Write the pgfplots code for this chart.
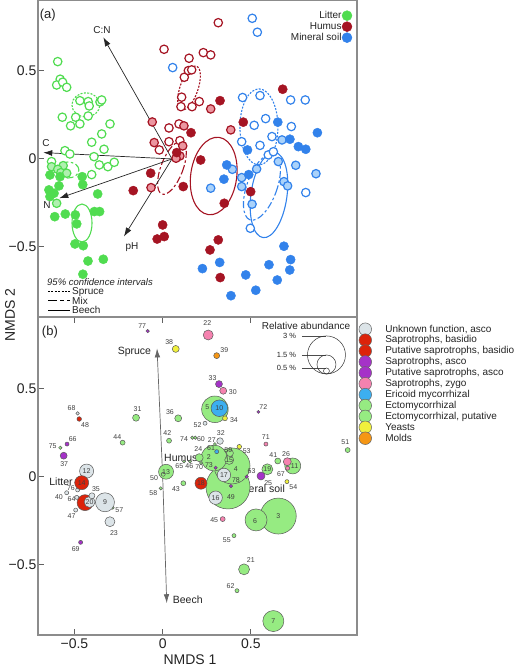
\documentclass[border=0pt]{standalone}
\usepackage{fontspec}
\setmainfont{Liberation Sans}
\usepackage{pgfplots}
\usepackage{pgfplotstable}
\pgfplotsset{compat=1.18}
\usetikzlibrary{arrows.meta}

\newcommand{\fs}[1]{\fontsize{#1}{#1}\selectfont}

% site colours (panel a)
\definecolor{litter}{RGB}{80,220,80}
\definecolor{litterL}{RGB}{175,240,175}
\definecolor{humus}{RGB}{165,20,35}
\definecolor{humusL}{RGB}{235,150,160}
\definecolor{mineral}{RGB}{50,130,235}
\definecolor{mineralL}{RGB}{170,210,250}
\definecolor{frame}{RGB}{140,140,140}
\definecolor{txt}{RGB}{35,35,35}
% guild colours (panel b)
\definecolor{unk}{RGB}{220,228,232}
\definecolor{redb}{RGB}{220,35,10}
\definecolor{purp}{RGB}{165,50,200}
\definecolor{pinkz}{RGB}{245,130,175}
\definecolor{eric}{RGB}{60,175,240}
\definecolor{ecto}{RGB}{150,235,130}
\definecolor{yeast}{RGB}{240,240,60}
\definecolor{mold}{RGB}{245,150,20}

\tikzset{
  spr/.style={dash pattern=on 2pt off 1.4pt},
  mixd/.style={dash pattern=on 7pt off 2.5pt on 2.5pt off 2.5pt},
}
\pgfplotsset{
  sprm/.style={only marks, mark=*, mark size=4.2pt, mark options={solid, fill=white, draw=#1, line width=1.2pt}},
  mixm/.style 2 args={only marks, mark=*, mark size=4.2pt, mark options={solid, fill=#2, draw=#1, line width=1.2pt}},
  beem/.style={only marks, mark=*, mark size=4.6pt, mark options={solid, fill=#1, draw=#1, line width=0.4pt}},
  bub/.style={scatter, only marks, mark=*,
    scatter/use mapped color={draw=black!65, fill=#1},
    line width=0.5pt,
    visualization depends on={\thisrow{ab}*6.33 \as \rad},
    scatter/@pre marker code/.append style={/tikz/mark size=\rad}},
  frm/.style={axis line style={draw=frame, line width=1.3pt},
    major tick length=6pt, tick style={draw=frame!70!black, line width=0.9pt},
    tick label style={font=\fs{14}, text=txt}, clip=false},
}

% ---------- panel (b) data: NMDS scores, relative abundance (%) ----------
\pgfplotstableread{
x y ab
0.370 -0.058 3.48
0.393 0.061 2.84
0.655 -0.223 2.84
0.291 0.106 2.05
0.296 0.382 2.10
0.529 -0.245 1.74
0.627 -0.818 1.66
0.737 0.061 1.26
0.019 0.028 1.18
0.593 0.042 0.87
0.461 -0.525 0.87
0.377 0.095 0.71
0.207 0.108 0.63
0.381 0.134 0.55
0.088 0.331 0.55
-0.151 0.334 0.55
0.652 0.089 0.47
-0.227 0.193 0.39
0.036 0.204 0.39
0.117 -0.037 0.39
1.048 0.151 0.39
0.003 0.014 0.32
-0.011 -0.066 0.27
0.404 -0.334 0.32
0.421 -0.646 0.32
0.168 0.221 0.27
0.185 0.221 0.27
-0.580 0.164 0.27
-0.283 -0.176 0.24
0.296 0.185 0.24
0.121 0.086 0.24
0.155 0.086 0.24
0.217 0.078 0.24
}\ectotab
\pgfplotstableread{
x y ab
-0.440 -0.147 1.26
}\redAtab
\pgfplotstableread{
x y ab
0.347 0.010 1.06
0.300 -0.119 1.06
-0.431 0.032 1.11
-0.327 -0.145 1.50
-0.414 -0.143 0.87
-0.299 -0.255 0.79
0.325 0.202 0.52
-0.401 -0.108 0.47
0.240 0.303 0.32
-0.482 0.359 0.27
-0.544 -0.091 0.32
-0.482 -0.075 0.32
-0.487 -0.117 0.32
-0.493 -0.189 0.32
}\unktab
\pgfplotstableread{
x y ab
-0.459 -0.034 1.11
0.217 -0.037 0.95
-0.473 0.327 0.36
}\redBtab
\pgfplotstableread{
x y ab
-0.085 0.825 0.27
0.319 0.525 0.55
-0.542 0.185 0.32
-0.561 0.119 0.55
0.300 0.051 0.27
0.387 -0.053 0.27
0.476 0.000 0.27
0.557 0.004 0.63
-0.465 -0.372 0.32
0.542 0.367 0.24
}\purptab
\pgfplotstableread{
x y ab
0.258 0.803 0.79
0.343 0.487 0.55
0.706 0.085 0.63
0.708 0.048 0.32
0.585 0.185 0.32
0.340 -0.240 0.39
}\pinktab
\pgfplotstableread{
x y ab
0.321 0.388 1.31
0.306 0.142 0.32
}\erictab
\pgfplotstableread{
x y ab
0.074 0.724 0.55
0.353 0.331 0.39
0.434 0.170 0.36
0.704 -0.028 0.32
}\yeasttab
\pgfplotstableread{
x y ab
0.306 0.686 0.47
}\moldtab
\pgfplotstableread{
x y lab
-0.116 0.856 77
0.253 0.873 22
0.037 0.765 38
0.349 0.718 39
0.283 0.561 33
0.397 0.482 30
0.253 0.397 5
0.321 0.388 10
0.404 0.321 34
0.570 0.397 72
0.198 0.293 52
0.041 0.365 36
-0.142 0.384 31
-0.516 0.388 68
-0.440 0.291 48
-0.257 0.223 44
0.026 0.246 42
0.121 0.212 74
0.217 0.215 60
0.329 0.246 32
0.278 0.208 27
-0.510 0.214 66
-0.623 0.172 75
-0.558 0.074 37
0.476 0.146 53
0.584 0.223 71
0.627 0.123 41
0.699 0.129 26
0.747 0.061 11
0.670 0.017 67
1.035 0.195 51
0.274 0.161 61
0.372 0.151 59
0.377 0.095 15
0.202 0.155 24
0.262 0.113 2
0.094 0.061 65
0.151 0.061 46
0.207 0.057 70
0.262 0.066 73
0.414 0.042 4
0.347 0.010 17
0.415 -0.019 78
0.504 0.034 63
0.593 0.042 19
0.598 -0.034 25
0.740 -0.057 54
0.300 -0.119 16
0.387 -0.113 49
0.217 -0.037 18
0.019 0.028 13
-0.049 -0.009 50
-0.053 -0.091 58
0.075 -0.071 43
0.292 -0.245 45
0.523 -0.249 6
0.655 -0.223 3
0.363 -0.359 55
0.499 -0.472 21
0.385 -0.618 62
0.627 -0.818 7
-0.431 0.032 12
-0.459 -0.034 14
-0.378 -0.071 35
-0.520 -0.066 76
-0.588 -0.113 40
-0.516 -0.128 64
-0.414 -0.143 20
-0.327 -0.145 9
-0.246 -0.189 57
-0.516 -0.223 47
-0.276 -0.317 23
-0.493 -0.410 69
}\labtab

\begin{document}
\begin{tikzpicture}
\path[use as bounding box] (0pt,0pt) rectangle (520pt,668pt);

% ================= panel (a) =================
\begin{axis}[frm,
  at={(38pt,351pt)}, anchor=south west, scale only axis,
  width=319pt, height=317pt,
  xmin=-0.761, xmax=1.051, ymin=-0.898, ymax=0.903,
  xtick=\empty, ytick={-0.5,0,0.5}, yticklabels={−0.5,0,0.5}, ytick pos=left,
  yticklabel style={inner sep=1.5pt},
  legend plot pos=right, legend cell align=right,
  legend style={at={(axis description cs:0.985,0.967)}, anchor=north east,
    draw=none, fill=none, font=\fs{10}, text=txt, inner sep=0pt,
    row sep=1pt, nodes={inner sep=0.5pt}},
]
\addlegendimage{only marks, mark=*, mark size=5pt, draw=litter, fill=litter}
\addlegendimage{only marks, mark=*, mark size=5pt, draw=humus, fill=humus}
\addlegendimage{only marks, mark=*, mark size=5pt, draw=mineral, fill=mineral}
\legend{Litter, Humus, Mineral soil}

% litter
\addplot[sprm=litter] coordinates {
(-0.649,0.553) (-0.635,0.453) (-0.655,0.420) (-0.621,0.436) (-0.598,0.407)
(-0.523,0.331) (-0.476,0.326) (-0.470,0.301) (-0.409,0.324) (-0.399,0.335)
(-0.623,0.237) (-0.547,0.237) (-0.476,0.244) (-0.576,0.188) (-0.523,0.199)
(-0.352,0.199) (-0.399,0.142) (-0.456,0.095) (-0.386,0.055) (-0.608,0.047)
(-0.580,0.028) (-0.443,0.013) (-0.684,-0.015) (-0.364,-0.044) (-0.328,-0.019)
(-0.413,-0.034) (-0.456,-0.089)};
\addplot[mixm={litter}{litterL}] coordinates {
(-0.618,-0.038) (-0.684,-0.044) (-0.649,-0.059) (-0.631,-0.078) (-0.598,-0.081)
(-0.655,-0.252)};
\addplot[beem=litter] coordinates {
(-0.693,-0.091) (-0.636,-0.101) (-0.510,-0.101) (-0.507,-0.146) (-0.642,-0.153)
(-0.699,-0.176) (-0.670,-0.195) (-0.693,-0.214) (-0.606,-0.313) (-0.666,-0.328)
(-0.549,-0.318) (-0.541,-0.369) (-0.441,-0.299) (-0.411,-0.299) (-0.422,-0.199)
(-0.551,-0.483) (-0.504,-0.493) (-0.477,-0.580) (-0.390,-0.570) (-0.506,-0.655)};
% humus
\addplot[sprm=humus] coordinates {
(0.263,0.774) (-0.045,0.623) (0.097,0.572) (0.178,0.604) (0.220,0.591)
(0.070,0.464) (0.093,0.502) (0.112,0.506) (0.055,0.351) (0.051,0.297)
(0.114,0.297) (0.155,0.326) (-0.017,0.176) (0.040,0.199) (-0.017,0.098)
(0.045,0.104) (-0.072,0.051)};
\addplot[mixm={humus}{humusL}] coordinates {
(0.220,0.284) (-0.112,0.210) (0.068,0.188) (0.334,0.165) (-0.101,0.093)
(0.061,0.074) (0.045,0.017) (0.023,0.004) (-0.119,-0.163)};
\addplot[beem=humus] coordinates {
(0.273,0.331) (0.108,0.149) (0.405,0.209) (0.629,0.396) (0.027,0.036)
(-0.121,-0.081) (-0.220,-0.180) (0.064,-0.157) (0.163,-0.006) (0.297,-0.252)
(-0.053,-0.375) (-0.084,-0.455) (-0.044,-0.441) (0.263,-0.460) (0.216,-0.517)
(0.274,-0.674) (0.447,-0.186)};
% mineral soil
\addplot[sprm=mineral] coordinates {
(0.456,0.799) (0.485,0.720) (0.004,0.519) (0.401,0.349) (0.500,0.360)
(0.674,0.335) (0.757,0.335) (0.532,0.229) (0.467,0.191) (0.678,0.184)
(0.568,0.127) (0.396,0.098) (0.500,0.077) (0.547,0.023) (0.576,0.041)
(0.760,-0.191) (0.445,-0.394)};
\addplot[mixm={mineral}{mineralL}] coordinates {
(0.625,0.108) (0.604,-0.015) (0.481,-0.057) (0.703,-0.036) (0.818,-0.084)
(0.636,-0.129) (0.657,-0.153) (0.396,-0.106) (0.396,-0.157) (0.455,-0.257)
(0.343,-0.059) (0.220,-0.166)};
\addplot[beem=mineral] coordinates {
(0.429,0.051) (0.601,0.209) (0.826,0.149) (0.670,0.112) (0.718,0.070)
(0.760,0.055) (0.436,-0.089) (0.311,-0.034) (0.295,-0.115) (0.636,-0.496)
(0.674,-0.572) (0.551,-0.601) (0.669,-0.631) (0.419,-0.659) (0.598,-0.688)
(0.476,-0.746) (0.173,-0.623) (0.271,-0.588) (0.335,-0.777)};

% 95% confidence ellipses
\draw[litter, spr, line width=1.1pt] (axis cs:-0.489,0.307) ellipse [x radius=14pt, y radius=12pt];
\draw[litter, mixd, line width=1.1pt] (axis cs:-0.591,-0.063) ellipse [x radius=11pt, y radius=8pt];
\draw[litter, line width=1.1pt] (axis cs:-0.511,-0.364) ellipse [x radius=10pt, y radius=19pt];
\draw[humus, spr, line width=1.1pt, rotate around={-19:(axis cs:0.097,0.403)}] (axis cs:0.097,0.403) ellipse [x radius=9pt, y radius=23pt];
\draw[humus, mixd, line width=1.1pt, rotate around={-21:(axis cs:0,-0.051)}] (axis cs:0,-0.051) ellipse [x radius=11pt, y radius=28pt];
\draw[humus, line width=1.1pt, rotate around={-8:(axis cs:0.237,-0.097)}] (axis cs:0.237,-0.097) ellipse [x radius=23pt, y radius=39pt];
\draw[mineral, spr, line width=1.1pt] (axis cs:0.494,0.182) ellipse [x radius=19pt, y radius=38pt];
\draw[mineral, mixd, line width=1.1pt, rotate around={-20:(axis cs:0.511,-0.159)}] (axis cs:0.511,-0.159) ellipse [x radius=15pt, y radius=35pt];
\draw[mineral, line width=1.1pt, rotate around={-8:(axis cs:0.551,-0.205)}] (axis cs:0.551,-0.205) ellipse [x radius=18pt, y radius=43pt];

% environmental vectors
\addplot[-{Latex[length=9pt,width=6pt]}, black!85, line width=0.7pt] coordinates {(0,0) (-0.390,0.691)};
\addplot[-{Latex[length=9pt,width=6pt]}, black!85, line width=0.7pt] coordinates {(0,0) (-0.731,0.036)};
\addplot[-{Latex[length=9pt,width=6pt]}, black!85, line width=0.7pt] coordinates {(0,0) (-0.640,-0.223)};
\addplot[-{Latex[length=9pt,width=6pt]}, black!85, line width=0.7pt] coordinates {(0,0) (-0.273,-0.441)};
\node[font=\fs{10}, text=txt] at (axis cs:-0.398,0.733) {C:N};
\node[font=\fs{10}, text=txt] at (axis cs:-0.716,0.091) {C};
\node[font=\fs{10}, text=txt] at (axis cs:-0.710,-0.261) {N};
\node[font=\fs{10}, text=txt] at (axis cs:-0.227,-0.500) {pH};
\node[font=\fs{13}, text=txt] at (axis cs:-0.705,0.818) {(a)};
\end{axis}

% ================= panel (b) =================
\begin{axis}[frm,
  at={(38pt,33pt)}, anchor=south west, scale only axis,
  width=319pt, height=318pt,
  xmin=-0.7065, xmax=1.101, ymin=-0.897, ymax=0.905,
  xtick={-0.5,0,0.5}, xticklabels={−0.5,0,0.5}, xtick pos=both, xticklabel pos=bottom,
  ytick={-0.5,0,0.5}, yticklabels={−0.5,0,0.5}, ytick pos=left,
  yticklabel style={inner sep=1.5pt},
  legend cell align=left,
  legend style={at={(axis description cs:1.0056,0.982)}, anchor=north west,
    draw=none, fill=none, font=\fs{10}, text=txt, inner sep=0pt,
    row sep=-1.7pt, column sep=13pt, nodes={inner sep=0.7pt}},
]
\addlegendimage{only marks, mark=*, mark size=6.3pt, draw=black!60, fill=unk, line width=0.5pt}
\addlegendimage{only marks, mark=*, mark size=6.3pt, draw=black!60, fill=redb, line width=0.5pt}
\addlegendimage{only marks, mark=*, mark size=6.3pt, draw=black!60, fill=redb, line width=0.5pt}
\addlegendimage{only marks, mark=*, mark size=6.3pt, draw=black!60, fill=purp, line width=0.5pt}
\addlegendimage{only marks, mark=*, mark size=6.3pt, draw=black!60, fill=purp, line width=0.5pt}
\addlegendimage{only marks, mark=*, mark size=6.3pt, draw=black!60, fill=pinkz, line width=0.5pt}
\addlegendimage{only marks, mark=*, mark size=6.3pt, draw=black!60, fill=eric, line width=0.5pt}
\addlegendimage{only marks, mark=*, mark size=6.3pt, draw=black!60, fill=ecto, line width=0.5pt}
\addlegendimage{only marks, mark=*, mark size=6.3pt, draw=black!60, fill=ecto, line width=0.5pt}
\addlegendimage{only marks, mark=*, mark size=6.3pt, draw=black!60, fill=yeast, line width=0.5pt}
\addlegendimage{only marks, mark=*, mark size=6.3pt, draw=black!60, fill=mold, line width=0.5pt}
\legend{{Unknown function, asco}, {Saprotrophs, basidio}, {Putative saprotrophs, basidio},
  {Saprotrophs, asco}, {Putative saprotrophs, asco}, {Saprotrophs, zygo},
  {Ericoid mycorrhizal}, {Ectomycorrhizal}, {Ectomycorrhizal, putative}, {Yeasts}, {Molds}}

% forest-type vectors
\addplot[-{Latex[length=9pt,width=5.5pt]}, black!60, line width=0.7pt] coordinates {(0,0) (-0.032,0.727)};
\addplot[-{Latex[length=9pt,width=5.5pt]}, black!60, line width=0.7pt] coordinates {(0,0) (0.023,-0.717)};

\addplot[bub=ecto] table {\ectotab};
\addplot[bub=redb] table {\redAtab};
\addplot[bub=unk] table {\unktab};
\addplot[bub=redb] table {\redBtab};
\addplot[bub=purp] table {\purptab};
\addplot[bub=pinkz] table {\pinktab};
\addplot[bub=eric] table {\erictab};
\addplot[bub=yeast] table {\yeasttab};
\addplot[bub=mold] table {\moldtab};

% OTU numbers
\addplot[only marks, mark=none, nodes near coords, point meta=explicit symbolic,
  every node near coord/.append style={font=\fs{7}, text=black!75, anchor=center, inner sep=0pt}]
  table[meta=lab] {\labtab};

\node[font=\fs{10.5}, text=txt] at (axis cs:-0.160,0.705) {Spruce};
\node[font=\fs{10.5}, text=txt] at (axis cs:0.142,-0.699) {Beech};
\node[font=\fs{10.5}, text=txt] at (axis cs:0.103,0.108) {Humus};
\node[font=\fs{10.5}, text=txt] at (axis cs:0.542,-0.066) {Mineral soil};
\node[font=\fs{10.5}, text=txt] at (axis cs:-0.576,-0.028) {Litter};
\node[font=\fs{13}, text=txt] at (axis cs:-0.639,0.822) {(b)};

% relative abundance key
\addplot[only marks, mark=o, mark size=19pt, black!80, line width=0.5pt] coordinates {(0.928,0.690)};
\addplot[only marks, mark=o, mark size=9.5pt, black!80, line width=0.5pt] coordinates {(0.928,0.636)};
\addplot[only marks, mark=o, mark size=3pt, black!80, line width=0.5pt] coordinates {(0.928,0.599)};
\addplot[black!70, line width=0.5pt] coordinates {(0.789,0.797) (0.928,0.797)};
\addplot[black!70, line width=0.5pt] coordinates {(0.789,0.690) (0.928,0.690)};
\addplot[black!70, line width=0.5pt] coordinates {(0.789,0.616) (0.928,0.616)};
\node[font=\fs{7.5}, text=txt, anchor=east] at (axis cs:0.776,0.797) {3 \%};
\node[font=\fs{7.5}, text=txt, anchor=east] at (axis cs:0.776,0.690) {1.5 \%};
\node[font=\fs{7.5}, text=txt, anchor=east] at (axis cs:0.776,0.616) {0.5 \%};
\node[font=\fs{10}, text=txt] at (axis cs:0.812,0.853) {Relative abundance};
\end{axis}

% confidence interval key (panel a)
\node[font=\fs{9.5}\itshape, text=txt, anchor=west, inner sep=0pt] at (47pt,385.8pt) {95\% confidence intervals};
\draw[black, spr, line width=0.9pt] (48pt,376.3pt) -- (70pt,376.3pt);
\draw[black, dash pattern=on 9pt off 3pt on 4pt off 3pt, line width=0.9pt] (48pt,367.3pt) -- (70pt,367.3pt);
\draw[black, line width=0.9pt] (48pt,358pt) -- (70pt,358pt);
\node[font=\fs{10}, text=txt, anchor=west, inner sep=0pt] at (72pt,376.3pt) {Spruce};
\node[font=\fs{10}, text=txt, anchor=west, inner sep=0pt] at (72pt,367.3pt) {Mix};
\node[font=\fs{10}, text=txt, anchor=west, inner sep=0pt] at (72pt,358pt) {Beech};

% axis titles
\node[font=\fs{14}, text=txt, rotate=90] at (10pt,353pt) {NMDS 2};
\node[font=\fs{14}, text=txt] at (190pt,8pt) {NMDS 1};
\end{tikzpicture}
\end{document}
